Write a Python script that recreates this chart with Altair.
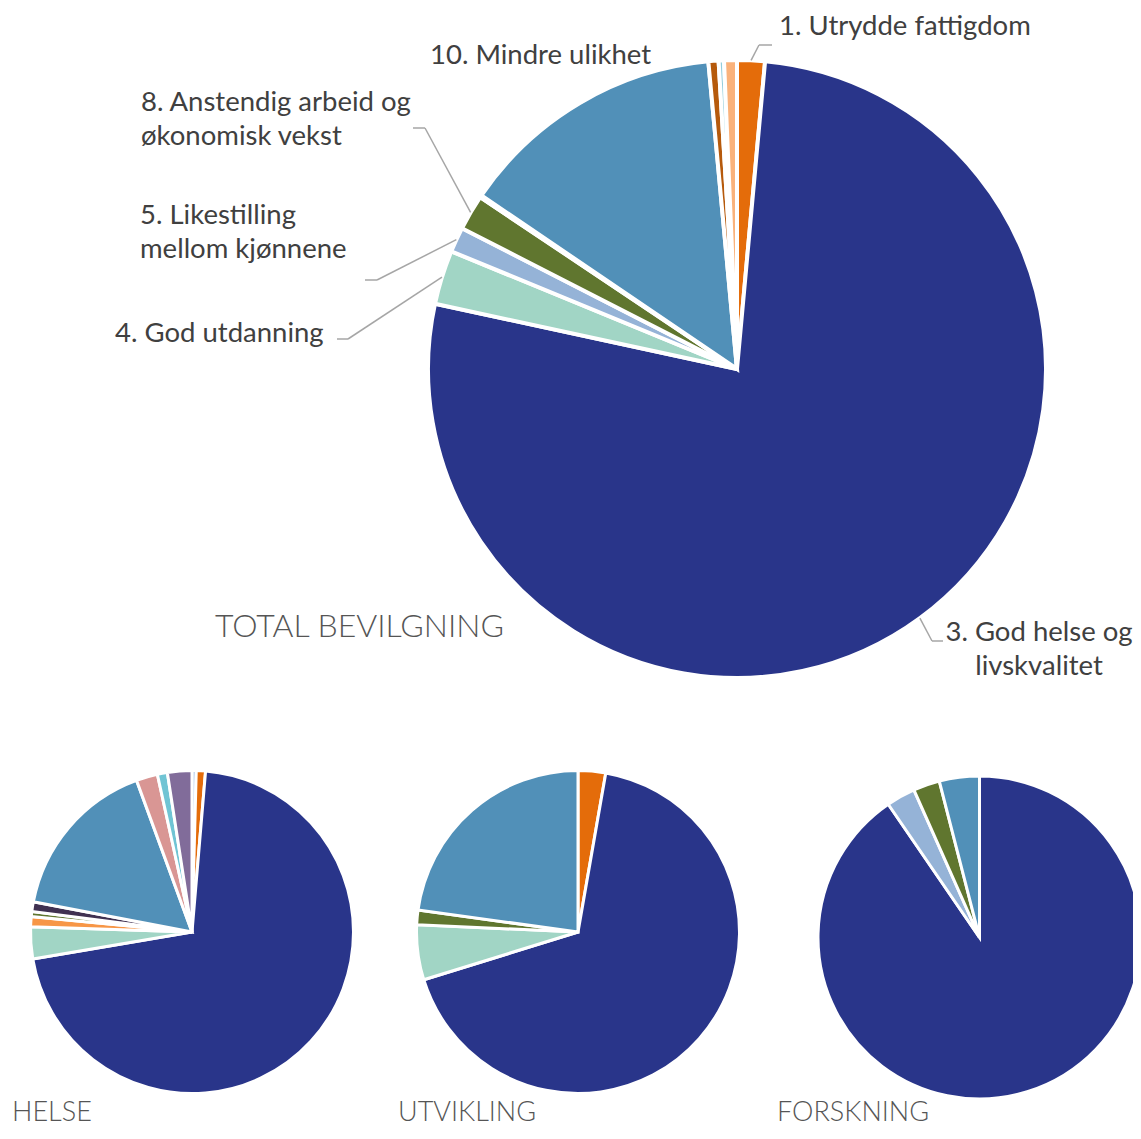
import altair as alt
import pandas as pd

FONT = "Lato"

# ---------------- data ----------------
panel_titles = ["TOTAL BEVILGNING", "HELSE", "UTVIKLING", "FORSKNING"]

total_cats = ["1. Utrydde fattigdom", "3. God helse og livskvalitet", "4. God utdanning",
              "5. Likestilling mellom kjønnene", "8. Anstendig arbeid og økonomisk vekst",
              "9. Industri, innovasjon og infrastruktur", "10. Mindre ulikhet",
              "11. Bærekraftige byer og lokalsamfunn", "14. Livet i havet",
              "16. Fred, rettferdighet og velfungerende institusjoner"]
total_vals = [1.45, 76.97, 2.83, 1.31, 1.86, 0.11, 14.03, 0.53, 0.28, 0.67]
total_colors = ["#E46C0A", "#29358A", "#A1D5C5", "#95B3D7", "#60762F", "#403151",
                "#5190B8", "#B65A0C", "#93CDDD", "#FAB27B"]
total_labels = ["1. Utrydde fattigdom", "3. God helse og\nlivskvalitet", "4. God utdanning",
                "5. Likestilling\nmellom kjønnene", "8. Anstendig arbeid og\nøkonomisk vekst",
                "", "10. Mindre ulikhet", "", "", ""]

helse_cats = ["0. Annet", "1. Utrydde fattigdom", "3. God helse og livskvalitet", "4. God utdanning",
              "6. Rent vann og gode sanitærforhold", "8. Anstendig arbeid og økonomisk vekst",
              "9. Industri, innovasjon og infrastruktur", "10. Mindre ulikhet",
              "12. Ansvarlig forbruk og produksjon", "13. Stoppe klimaendringene",
              "17. Samarbeid for å nå målene"]
helse_vals = [0.42, 0.92, 70.97, 3.19, 1.0, 0.5, 0.97, 16.42, 2.14, 1.0, 2.44]
helse_colors = ["#8DB3E2", "#E46C0A", "#29358A", "#A1D5C5", "#F79646", "#60762F", "#403151",
                "#5190B8", "#D99694", "#70C4D4", "#816C9A"]

utv_cats = ["1. Utrydde fattigdom", "3. God helse og livskvalitet", "4. God utdanning",
            "8. Anstendig arbeid og økonomisk vekst", "10. Mindre ulikhet"]
utv_vals = [2.75, 67.4, 5.5, 1.45, 22.8]
utv_colors = ["#E46C0A", "#29358A", "#A1D5C5", "#60762F", "#5190B8"]

fors_cats = ["3. God helse og livskvalitet", "5. Likestilling mellom kjønnene",
             "8. Anstendig arbeid og økonomisk vekst", "10. Mindre ulikhet"]
fors_vals = [90.36, 2.9, 2.65, 4.0]
fors_colors = ["#29358A", "#95B3D7", "#60762F", "#5190B8"]

rows = []
for panel, cats, vals, cols in [
    (panel_titles[0], total_cats, total_vals, total_colors),
    (panel_titles[1], helse_cats, helse_vals, helse_colors),
    (panel_titles[2], utv_cats, utv_vals, utv_colors),
    (panel_titles[3], fors_cats, fors_vals, fors_colors),
]:
    for i, (c, v, col) in enumerate(zip(cats, vals, cols)):
        rows.append({"panel": panel, "cat": c, "value": v, "color": col, "order": i})
df = pd.DataFrame(rows)

# ---------------- layout ----------------
W, H = 1125, 1119
# pie centre x, centre y, outer radius, white border width
PIES = {
    "TOTAL BEVILGNING": (729, 361, 309, 4),
    "HELSE": (184, 924, 161.5, 3),
    "UTVIKLING": (570, 924, 161.5, 3),
    "FORSKNING": (971.5, 929.5, 161.5, 3),
}
# label placement for the big pie: x, baseline y, align
LABEL_POS = {
    "1. Utrydde fattigdom": (771, 27, "left"),
    "3. God helse og livskvalitet": (1031, 633, "center"),
    "4. God utdanning": (107, 334, "left"),
    "5. Likestilling mellom kjønnene": (132, 216, "left"),
    "8. Anstendig arbeid og økonomisk vekst": (133, 103, "left"),
    "10. Mindre ulikhet": (422, 56, "left"),
}
# leader lines: elbow x, elbow y, end x
LEADERS = {
    "1. Utrydde fattigdom": (751, 37, 764),
    "3. God helse og livskvalitet": (924, 633, 935),
    "4. God utdanning": (340, 331, 329),
    "5. Likestilling mellom kjønnene": (369, 272, 357),
    "8. Anstendig arbeid og økonomisk vekst": (417, 120, 405),
}
TITLE_POS = {
    "TOTAL BEVILGNING": (207, 629, 32),
    "HELSE": (4, 1113, 27),
    "UTVIKLING": (390, 1113, 27),
    "FORSKNING": (769, 1113, 27),
}

layers = []
for p in panel_titles:
    cx, cy, r, sw = PIES[p]
    layers.append(
        alt.Chart(df).transform_filter(alt.datum.panel == p)
        .mark_arc(outerRadius=r, stroke="white", strokeWidth=sw)
        .encode(
            theta=alt.Theta("value:Q", stack="normalize"),
            color=alt.Color("color:N", scale=None),
            order=alt.Order("order:Q"),
            x=alt.value(cx),
            y=alt.value(cy),
        )
    )

# leader lines (anchored at slice mid-angle on the big pie's rim)
tot = df[df.panel == panel_titles[0]].copy()
tot["label"] = total_labels
tot["ex"] = [LEADERS.get(c, (None, None, None))[0] for c in tot.cat]
tot["ey"] = [LEADERS.get(c, (None, None, None))[1] for c in tot.cat]
tot["hx"] = [LEADERS.get(c, (None, None, None))[2] for c in tot.cat]
tot["tx"] = [LABEL_POS.get(c, (None, None, None))[0] for c in tot.cat]
tot["ty"] = [LABEL_POS.get(c, (None, None, None))[1] for c in tot.cat]
tot["talign"] = [LABEL_POS.get(c, (None, None, ""))[2] for c in tot.cat]

cx, cy, R, _ = PIES[panel_titles[0]]
lead_base = (
    alt.Chart(tot)
    .transform_window(cum="sum(value)", sort=[alt.SortField("order")])
    .transform_joinaggregate(tot="sum(value)")
    .transform_calculate(mid="2*PI*(datum.cum - datum.value/2)/datum.tot")
    .transform_calculate(ax=f"{cx} + {R}*sin(datum.mid)", ay=f"{cy} - {R}*cos(datum.mid)")
    .transform_filter("isValid(datum.ex)")
)
LEAD_COLOR = "#A6A6A6"
layers.append(
    lead_base.mark_rule(color=LEAD_COLOR, strokeWidth=1.5).encode(
        x=alt.X("ax:Q", scale=None, axis=None), y=alt.Y("ay:Q", scale=None, axis=None),
        x2="ex:Q", y2="ey:Q")
)
layers.append(
    lead_base.mark_rule(color=LEAD_COLOR, strokeWidth=1.5).encode(
        x=alt.X("ex:Q", scale=None, axis=None), y=alt.Y("ey:Q", scale=None, axis=None),
        x2="hx:Q", y2="ey:Q")
)

for al in ["left", "center"]:
    layers.append(
        alt.Chart(tot).transform_filter(alt.datum.talign == al)
        .mark_text(align=al, baseline="alphabetic", font=FONT, fontSize=27.5,
                   color="#404040", lineBreak="\n", lineHeight=34)
        .encode(x=alt.X("tx:Q", scale=None, axis=None), y=alt.Y("ty:Q", scale=None, axis=None),
                text="label:N")
    )

titles = pd.DataFrame({
    "title": panel_titles,
    "tx": [TITLE_POS[t][0] for t in panel_titles],
    "ty": [TITLE_POS[t][1] for t in panel_titles],
    "size": [TITLE_POS[t][2] for t in panel_titles],
})
for size in sorted(set(titles["size"])):
    layers.append(
        alt.Chart(titles).transform_filter(alt.datum.size == size)
        .mark_text(align="left", baseline="alphabetic", font=FONT, fontSize=size,
                   fontWeight=300, color="#555555")
        .encode(x=alt.X("tx:Q", scale=None, axis=None), y=alt.Y("ty:Q", scale=None, axis=None),
                text="title:N")
    )

chart = (
    alt.layer(*layers)
    .resolve_scale(theta="independent")
    .properties(width=W, height=H, autosize=alt.AutoSizeParams(type="none"), padding=0,
                background="white")
    .configure_view(stroke=None)
)

chart.save("out.html", embed_options={"renderer": "svg", "actions": False})
